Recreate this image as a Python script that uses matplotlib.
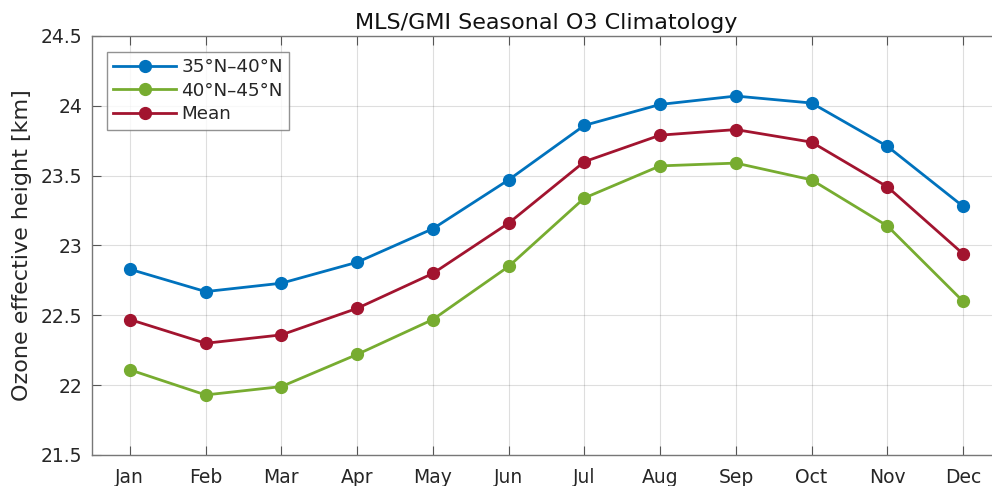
import matplotlib
matplotlib.use("Agg")
import matplotlib.pyplot as plt

months = ["Jan", "Feb", "Mar", "Apr", "May", "Jun", "Jul", "Aug", "Sep", "Oct", "Nov", "Dec"]
band_35_40 = [22.83, 22.67, 22.73, 22.88, 23.12, 23.47, 23.86, 24.01, 24.07, 24.02, 23.71, 23.28]
band_40_45 = [22.11, 21.93, 21.99, 22.22, 22.47, 22.85, 23.34, 23.57, 23.59, 23.47, 23.14, 22.60]
band_mean = [22.47, 22.30, 22.36, 22.55, 22.80, 23.16, 23.60, 23.79, 23.83, 23.74, 23.42, 22.94]
labels = ["35°N–40°N", "40°N–45°N", "Mean"]
yticks = [21.5, 22, 22.5, 23, 23.5, 24, 24.5]
ytick_labels = ["21.5", "22", "22.5", "23", "23.5", "24", "24.5"]

colors = ["#0072BD", "#77AC30", "#A2142F"]
text_c = "#262626"

plt.rcParams['font.family'] = ['DejaVu Sans']

fig = plt.figure(figsize=(9.92, 4.86), dpi=100)
W, H = 992, 486
ax = fig.add_axes([92 / W, (H - 455) / H, 909 / W, 419 / H])

x = list(range(1, len(months) + 1))
for vals, lab, c in zip([band_35_40, band_40_45, band_mean], labels, colors):
    ax.plot(x, vals, color=c, lw=2.0, marker='o', ms=8.5, label=lab, zorder=3)

ax.set_xlim(0.5, 12.5)
ax.set_ylim(21.5, 24.5)
ax.set_xticks(x)
ax.set_xticklabels(months)
ax.set_yticks(yticks)
ax.set_yticklabels(ytick_labels)
ax.grid(True, color="#262626", alpha=0.15, lw=0.8)
ax.set_axisbelow(True)
ax.tick_params(direction='in', length=6.5, width=0.8, color="#555555",
               labelsize=13.5, labelcolor=text_c, top=True, right=True)
ax.tick_params(axis='x', pad=9)
ax.tick_params(axis='y', pad=7)
for s in ax.spines.values():
    s.set_color("#777777")
    s.set_linewidth(1.0)
ax.spines['right'].set_visible(False)

ax.set_ylabel("Ozone effective height [km]", fontsize=16, color=text_c, labelpad=6)
ax.set_title("MLS/GMI Seasonal O3 Climatology", fontsize=16, color="#111111", pad=5)

leg = ax.legend(loc='upper left', bbox_to_anchor=(15 / 909, 1 - 16 / 419), borderaxespad=0,
                fontsize=13.2, frameon=True, fancybox=False, edgecolor="#777777",
                handlelength=3.4, handletextpad=0.3, labelspacing=0.3, borderpad=0.35)
leg.get_frame().set_linewidth(1.0)
for t in leg.get_texts():
    t.set_color(text_c)

fig.savefig("out.png", dpi=100)
